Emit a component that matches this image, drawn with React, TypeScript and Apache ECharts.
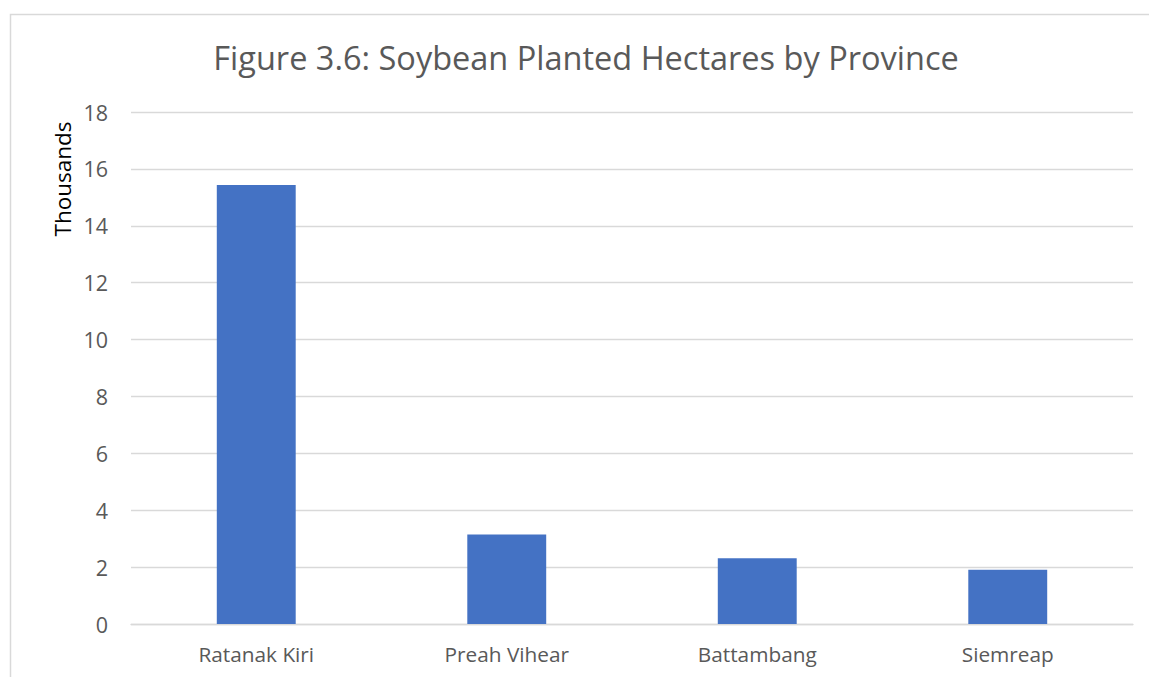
import React, { useEffect, useRef } from "react";
import * as echarts from "echarts";

const categories = ["Ratanak Kiri", "Preah Vihear", "Battambang", "Siemreap"];
const hectaresThousands = [15.43, 3.15, 2.31, 1.91];
const titleText = "Figure 3.6: Soybean Planted Hectares by Province";
const yAxisTitle = "Thousands";

const FONT = "'Open Sans', sans-serif";
const GRID = "#d9d9d9";
const LABEL = "#595959";

export default function App() {
  const ref = useRef<HTMLDivElement>(null);
  useEffect(() => {
    if (!ref.current) return;
    const chart = echarts.init(ref.current, undefined, { renderer: "svg" });
    chart.setOption({
      animation: false,
      backgroundColor: "#ffffff",
      textStyle: { fontFamily: FONT },
      title: {
        text: titleText,
        left: 586,
        top: 41,
        padding: 0,
        textAlign: "center",
        textStyle: { fontFamily: FONT, fontSize: 32.5, fontWeight: "normal", color: LABEL },
      },
      graphic: [
        {
          type: "rect",
          shape: { x: 10.5, y: 14.5, width: 1200, height: 800 },
          style: { fill: "none", stroke: GRID, lineWidth: 1.5 },
          silent: true,
          z: -1,
        },
        {
          type: "text",
          x: 62,
          y: 179,
          rotation: Math.PI / 2,
          style: {
            text: yAxisTitle,
            fontFamily: FONT,
            fontSize: 22.5,
            fill: "#000000",
            align: "center",
            verticalAlign: "middle",
          },
        },
      ],
      grid: { left: 131, right: 16, top: 112, bottom: 53, containLabel: false },
      xAxis: {
        type: "category",
        data: categories,
        axisTick: { show: false },
        axisLine: { show: true, lineStyle: { color: GRID, width: 1.3 } },
        axisLabel: { color: LABEL, fontSize: 20.8, fontFamily: FONT, margin: 19 },
      },
      yAxis: {
        type: "value",
        min: 0,
        max: 18,
        interval: 2,
        axisLine: { show: false },
        axisTick: { show: false },
        splitLine: { lineStyle: { color: GRID, width: 1.3 } },
        axisLabel: { color: LABEL, fontSize: 21.5, fontFamily: FONT, margin: 23 },
      },
      series: [
        {
          type: "bar",
          data: hectaresThousands,
          barWidth: "31.5%",
          itemStyle: { color: "#4472c4" },
        },
      ],
    });
    return () => chart.dispose();
  }, []);
  return (
    <div
      ref={ref}
      style={{ position: "absolute", left: 0, top: 0, width: 1149, height: 677 }}
    />
  );
}
